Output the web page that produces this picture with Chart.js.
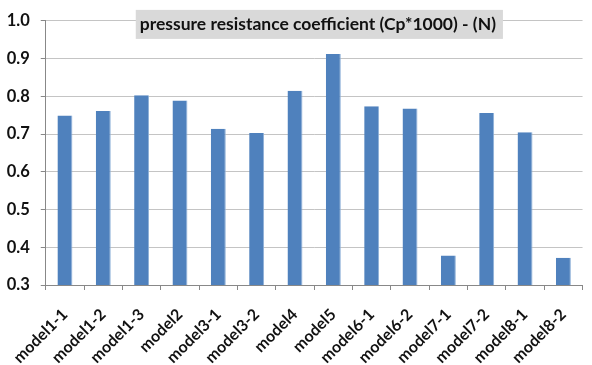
<!DOCTYPE html>
<html>
<head>
<meta charset="utf-8">
<script src="https://cdn.jsdelivr.net/npm/chart.js@4/dist/chart.umd.min.js"></script>
<style>
  html, body { margin: 0; padding: 0; background: #fff; }
  #wrap { width: 592px; height: 365px; }
</style>
</head>
<body>
<div id="wrap"><canvas id="c"></canvas></div>
<script>
const categories = ['model1-1', 'model1-2', 'model1-3', 'model2', 'model3-1', 'model3-2', 'model4',
  'model5', 'model6-1', 'model6-2', 'model7-1', 'model7-2', 'model8-1', 'model8-2'];
const cpValues = [0.749, 0.761, 0.803, 0.789, 0.714, 0.703, 0.815,
  0.912, 0.774, 0.768, 0.378, 0.756, 0.705, 0.372];
const yMin = 0.3;
const yMax = 1.0;
const yStep = 0.05;
const chartTitle = 'pressure resistance coefficient (Cp*1000) - (N)';

const FONT = 'Lato, "Open Sans", sans-serif';

function isMajor(v) {
  return Math.abs(Math.round(v * 10) - v * 10) < 1e-6;
}

// Grey title banner drawn over the top of the plot area
const titleBanner = {
  id: 'titleBanner',
  afterDraw(chart) {
    const ctx = chart.ctx;
    const area = chart.chartArea;
    ctx.save();
    ctx.font = 'bold 17.5px ' + FONT;
    const w = ctx.measureText(chartTitle).width;
    const boxL = area.left + 90;
    const boxW = w + 11;
    const top = area.top - 11;
    ctx.fillStyle = '#d9d9d9';
    ctx.fillRect(boxL, top, boxW, 29);
    ctx.fillStyle = '#111';
    ctx.textBaseline = 'middle';
    ctx.textAlign = 'left';
    ctx.fillText(chartTitle, boxL + 4, top + 14);
    ctx.restore();
  }
};

new Chart(document.getElementById('c'), {
  type: 'bar',
  data: {
    labels: categories,
    datasets: [{
      data: cpValues,
      backgroundColor: '#4f81bd',
      borderColor: '#8eb0d8',
      borderWidth: { top: 0, left: 0, right: 1, bottom: 0 },
      barPercentage: 0.39,
      categoryPercentage: 1.0
    }]
  },
  options: {
    responsive: true,
    maintainAspectRatio: false,
    animation: false,
    layout: { padding: { top: 19, right: 2, left: 0, bottom: 0 } },
    plugins: {
      legend: { display: false },
      tooltip: { enabled: false },
      title: { display: false }
    },
    scales: {
      x: {
        afterFit(scale) { scale.height = 80; },
        grid: {
          offset: true,
          drawOnChartArea: false,
          drawTicks: true,
          tickLength: 5,
          color: '#888'
        },
        border: { color: '#888', width: 1 },
        ticks: {
          color: '#111',
          font: { family: FONT, size: 16, weight: 'bold' },
          minRotation: 45,
          maxRotation: 45,
          autoSkip: false,
          padding: 15
        }
      },
      y: {
        min: yMin,
        max: yMax,
        afterFit(scale) { scale.width = 45; },
        grid: {
          color: '#c4c4c4',
          lineWidth: 1,
          drawTicks: true,
          tickLength: 5,
          tickColor: (c) => (c.tick && isMajor(c.tick.value)) ? '#888' : 'rgba(0,0,0,0)'
        },
        border: { color: '#888', width: 1 },
        ticks: {
          stepSize: yStep,
          maxTicksLimit: 20,
          color: '#111',
          padding: 11,
          font: { family: FONT, size: 16.5, weight: 'bold' },
          callback: (v) => isMajor(v) ? Number(v).toFixed(1) : ''
        }
      }
    }
  },
  plugins: [titleBanner]
});
</script>
</body>
</html>
